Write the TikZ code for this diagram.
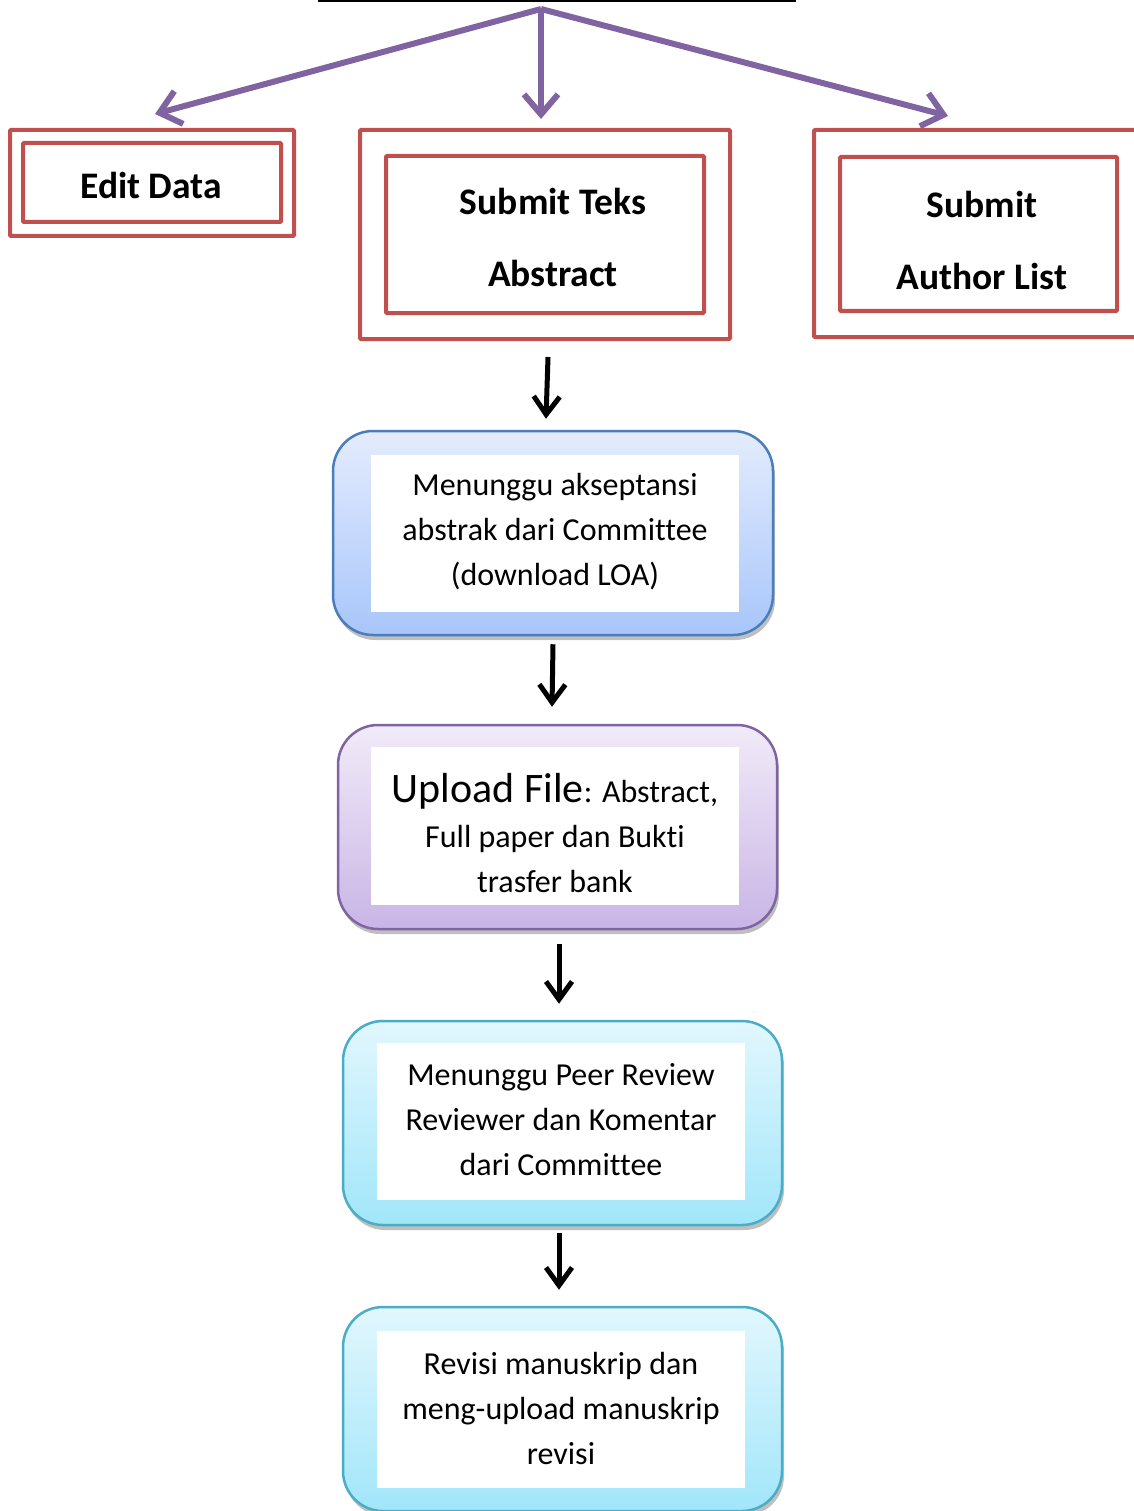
\documentclass[tikz,border=0pt]{standalone}
\usepackage{fontspec}
\setmainfont{Carlito}[Ligatures={NoCommon}]
\usetikzlibrary{arrows.meta,shadows,calc}
\definecolor{redb}{HTML}{C0504D}
\definecolor{purp}{HTML}{8064A2}
\definecolor{blueb}{HTML}{4A7EBB}
\definecolor{cyanb}{HTML}{4BACC6}
\definecolor{bluetop}{HTML}{E4ECFD}
\definecolor{bluebot}{HTML}{A8C6FA}
\definecolor{purtop}{HTML}{F1EBF8}
\definecolor{purbot}{HTML}{C9B5E6}
\definecolor{cyantop}{HTML}{E2F7FD}
\definecolor{cyanbot}{HTML}{A1E6FA}
\tikzset{
  redframe/.style={draw=redb, line width=4, inner sep=0, rounded corners=1},
  boldtxt/.style={font=\fontsize{37.5}{72}\selectfont\bfseries, align=center, inner sep=0},
  bodytxt/.style={font=\fontsize{32}{45}\selectfont, align=center, inner sep=0},
  stepbox/.style={rounded corners=40, line width=2.5, minimum width=440, minimum height=204, inner sep=0,
    drop shadow={shadow xshift=2pt, shadow yshift=-5pt, opacity=0.25, fill=black}},
  whitebox/.style={fill=white, minimum width=368, minimum height=157, inner sep=0},
  purparrow/.style={draw=purp, line width=6, -{Straight Barb[length=20pt,width=34pt]}},
  blkarrow/.style={draw=black, line width=5, -{Straight Barb[length=18pt,width=26pt]}}
}
\begin{document}
\begin{tikzpicture}[x=1pt,y=-1pt]
\useasboundingbox (0,0) rectangle (1133,1511);
% top line
\coordinate (tl) at (318,1);
\coordinate (tr) at (796,1);
\draw[line width=2] (tl) -- (tr);
\coordinate (apex) at (541,9);

% red framed boxes
\node[redframe, minimum width=284, minimum height=106] (edo) at (152,183) {};
\node[redframe, minimum width=258, minimum height=79] (edi) at (152,182.5) {};
\node[boldtxt] (edt) at (151,185) {Edit Data};

\node[redframe, minimum width=370, minimum height=209] (sto) at (545,234.5) {};
\node[redframe, minimum width=318, minimum height=157] (sti) at (545,234.5) {};
\node[boldtxt] (stt) at (553,237) {Submit Teks\\Abstract};

\node[redframe, minimum width=326, minimum height=207] (alo) at (977,233.5) {};
\node[redframe, minimum width=277, minimum height=154] (ali) at (978.5,234) {};
\node[boldtxt] (alt) at (982,240) {Submit\\Author List};

% purple arrows
\draw[purparrow] (apex) -- ($(edo.north)+(3,-14)$);
\draw[purparrow] (apex) -- ($(sto.north)+(-4,-9)$);
\draw[purparrow] (apex) -- ($(alo.north)+(-29,-12)$);

% step boxes
\node[stepbox, draw=blueb, top color=bluetop, bottom color=bluebot] (b1) at (553,533) {};
\node[whitebox] (w1) at (555,533.5) {};
\node[bodytxt] (t1) at (555,532) {Menunggu akseptansi\\abstrak dari Committee\\(download LOA)};

\node[stepbox, draw=purp, minimum width=439, top color=purtop, bottom color=purbot] (b2) at (557.5,827) {};
\node[whitebox, minimum height=158] (w2) at (555,826) {};
\node[bodytxt] (t2) at (555,833) {{\fontsize{42}{45}\selectfont Upload File}: Abstract,\\Full paper dan Bukti\\trasfer bank};

\node[stepbox, draw=cyanb, minimum width=439, top color=cyantop, bottom color=cyanbot] (b3) at (562.5,1123) {};
\node[whitebox] (w3) at (561,1121.5) {};
\node[bodytxt] (t3) at (561,1120) {Menunggu Peer Review\\Reviewer dan Komentar\\dari Committee};

\node[stepbox, draw=cyanb, minimum width=439, top color=cyantop, bottom color=cyanbot] (b4) at (562.5,1409) {};
\node[whitebox] (w4) at (561,1409.5) {};
\node[bodytxt] (t4) at (561,1408) {Revisi manuskrip dan\\meng-upload manuskrip\\revisi};

% black arrows
\draw[blkarrow] ($(sto.south)+(3,16)$) -- ($(b1.north)+(-7,-11)$);
\draw[blkarrow] ($(b1.south)+(0,8)$) -- ($(b2.north)+(-5.5,-17)$);
\draw[blkarrow] ($(b2.south)+(1.5,14)$) -- ($(b3.north)+(-3.5,-16)$);
\draw[blkarrow] ($(b3.south)+(-3.5,7)$) -- ($(b4.north)+(-3.5,-16)$);
\end{tikzpicture}
\end{document}
